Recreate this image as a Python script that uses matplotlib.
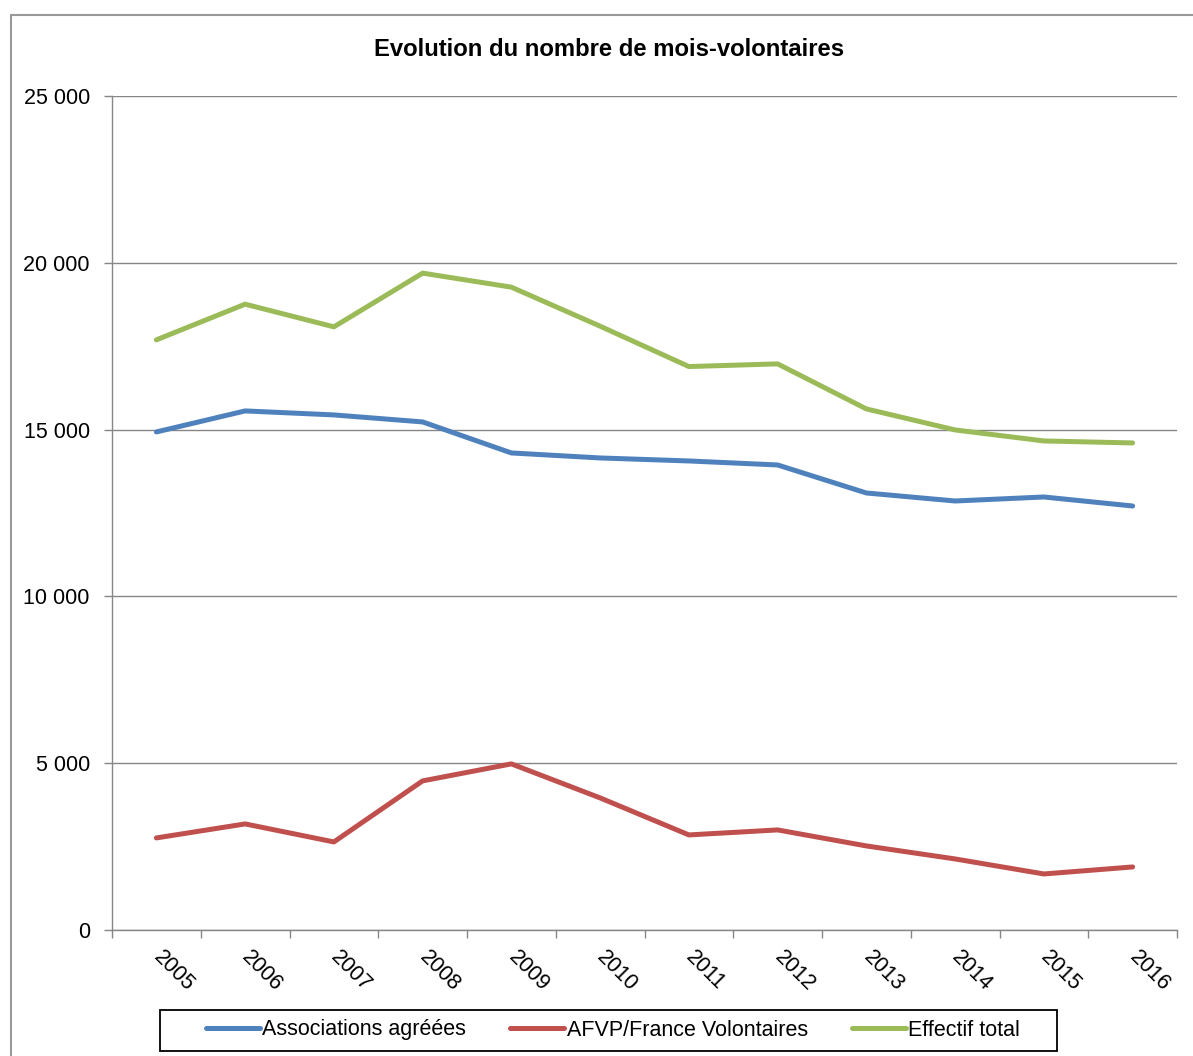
import matplotlib
matplotlib.use("Agg")
import matplotlib.pyplot as plt
import numpy as np
from matplotlib.patches import Rectangle
from matplotlib.ticker import FuncFormatter

plt.rcParams['font.family'] = ['Liberation Sans', 'DejaVu Sans']

# données
years = ['2005', '2006', '2007', '2008', '2009', '2010',
         '2011', '2012', '2013', '2014', '2015', '2016']
associations = [14930, 15560, 15440, 15230, 14300, 14150,
                14060, 13940, 13100, 12860, 12980, 12710]
afvp = [2760, 3180, 2640, 4470, 4980, 3960,
        2850, 3000, 2520, 2130, 1680, 1890]
total = [17690, 18760, 18080, 19690, 19270, 18100,
         16890, 16970, 15620, 14990, 14660, 14600]

W, H = 1193, 1056
fig = plt.figure(figsize=(W / 100, H / 100), dpi=100)

# cadre gris autour du graphique
fig.patches.append(Rectangle((11 / W, -0.02), 1.1, 1 - 15 / H + 0.02,
                             transform=fig.transFigure, fill=False,
                             edgecolor='#999999', linewidth=1.5))

ax = fig.add_axes([112 / W, 1 - 930 / H, (1177 - 112) / W, (930 - 96) / H])

x = np.arange(len(years))
ax.plot(x, associations, color='#4F81BD', lw=3.6, label='Associations agréées', solid_capstyle='round')
ax.plot(x, afvp, color='#C0504D', lw=3.6, label='AFVP/France Volontaires', solid_capstyle='round')
ax.plot(x, total, color='#9BBB59', lw=3.6, label='Effectif total', solid_capstyle='round')

ax.set_xlim(-0.5, len(years) - 0.5)
ax.set_ylim(0, 25000)
ax.set_yticks(np.arange(0, 25001, 5000))
ax.yaxis.set_major_formatter(FuncFormatter(lambda v, p: f"{int(v):,}".replace(',', ' ')))
ax.grid(axis='y', color='#868686', lw=1)
ax.set_axisbelow(True)

ax.set_xticks(np.arange(-0.5, len(years)), labels=[])
ax.set_xticks(x, minor=True)
ax.set_xticklabels(years, minor=True, rotation=-45, ha='left', va='center',
                   rotation_mode='anchor', fontsize=15.5)
ax.tick_params(axis='x', which='minor', length=0, pad=17)
ax.tick_params(axis='x', which='major', length=6, color='#868686', width=1)
ax.tick_params(axis='y', length=6, color='#868686', width=1, labelsize=15.5, pad=10)

for s in ['top', 'right']:
    ax.spines[s].set_visible(False)
for s in ['left', 'bottom']:
    ax.spines[s].set_color('#868686')
    ax.spines[s].set_linewidth(1)

fig.text(609 / W, 1 - 50 / H, 'Evolution du nombre de mois-volontaires',
         ha='center', va='center', fontsize=17.2, fontweight='bold')

leg = fig.legend(loc='center', bbox_to_anchor=(613 / W, 1 - 1030 / H), ncol=3,
                 fontsize=15.5, frameon=False,
                 handlelength=2.5, handletextpad=0.12, columnspacing=2.05)

# cadre noir de la légende
fig.patches.append(Rectangle((160 / W, 1 - 1051 / H), (1057 - 160) / W, 41 / H,
                             transform=fig.transFigure, fill=False,
                             edgecolor='black', linewidth=1.3))

fig.savefig('out.png', dpi=100)
